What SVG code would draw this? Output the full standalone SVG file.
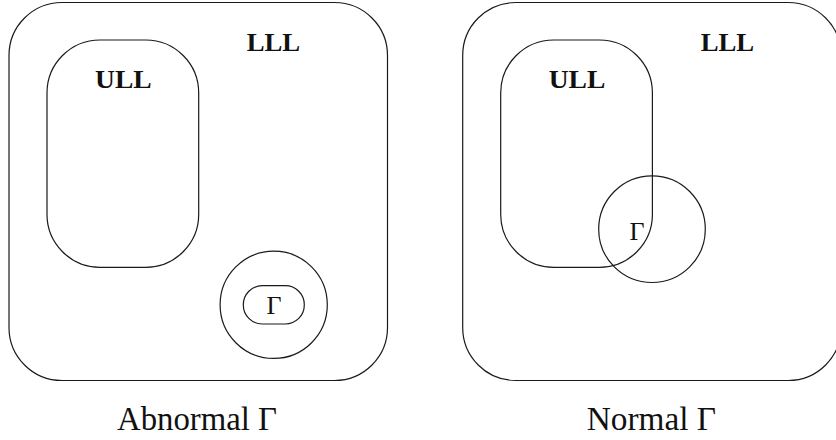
<svg xmlns="http://www.w3.org/2000/svg" width="836" height="440" viewBox="0 0 836 440">
<style>
.shape{fill:none;stroke:#1a1a1a;stroke-width:1.2}
.bold{font-family:"Liberation Serif","DejaVu Serif",serif;font-weight:bold;font-size:25px;fill:#111}
.reg{font-family:"Liberation Serif","DejaVu Serif",serif;font-size:34px;fill:#111}
.gam{font-family:"Liberation Serif","DejaVu Serif",serif;font-size:26px;fill:#111;text-anchor:middle}
</style>
<rect width="836" height="440" fill="#fff"/>
<g id="left-panel">
  <g id="left-lll">
    <rect class="shape" x="9" y="2.5" width="378.5" height="378" rx="53" ry="53"/>
    <text class="bold" x="246.7" y="51" textLength="53.5" lengthAdjust="spacingAndGlyphs">LLL</text>
  </g>
  <g id="left-ull">
    <rect class="shape" x="47" y="40" width="151.7" height="227.3" rx="53" ry="53"/>
    <text class="bold" x="95" y="88" textLength="56.7" lengthAdjust="spacingAndGlyphs">ULL</text>
  </g>
  <g id="left-circle">
    <circle class="shape" cx="273.7" cy="304.8" r="53.6"/>
  </g>
  <g id="left-gamma">
    <rect class="shape" x="243.3" y="285.7" width="61" height="38.3" rx="19" ry="19"/>
    <text class="gam" x="274" y="314">Γ</text>
  </g>
  <text id="left-caption" class="reg" x="117" y="430" textLength="160" lengthAdjust="spacingAndGlyphs">Abnormal Γ</text>
</g>
<g id="right-panel">
  <g id="right-lll">
    <rect class="shape" x="462.7" y="2.5" width="378.5" height="378" rx="53" ry="53"/>
    <text class="bold" x="700.7" y="51" textLength="53.5" lengthAdjust="spacingAndGlyphs">LLL</text>
  </g>
  <g id="right-ull">
    <rect class="shape" x="500.7" y="40" width="151.7" height="227.3" rx="53" ry="53"/>
    <text class="bold" x="548.7" y="88" textLength="56.7" lengthAdjust="spacingAndGlyphs">ULL</text>
  </g>
  <g id="right-circle">
    <circle class="shape" cx="652" cy="229.2" r="53.3"/>
    <text class="gam" x="637" y="239.5">Γ</text>
  </g>
  <text id="right-caption" class="reg" x="586.7" y="430" textLength="129.3" lengthAdjust="spacingAndGlyphs">Normal Γ</text>
</g>
<g id="connectors"/>
</svg>
